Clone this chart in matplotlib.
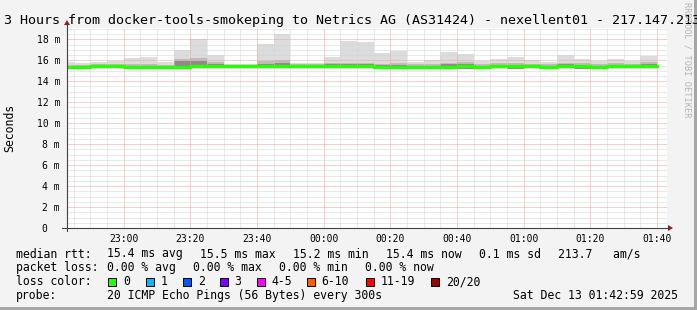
import matplotlib
matplotlib.use('Agg')
import matplotlib.pyplot as plt
from matplotlib.lines import Line2D
from matplotlib.patches import Rectangle, Polygon
from matplotlib.ticker import MultipleLocator, FixedLocator, FixedFormatter

# --- data ---
# start of each 5 minute bin
bin_times = ['22:40', '22:45', '22:50', '22:55', '23:00', '23:05', '23:10', '23:15',
             '23:20', '23:25', '23:30', '23:35', '23:40', '23:45', '23:50', '23:55',
             '00:00', '00:05', '00:10', '00:15', '00:20', '00:25', '00:30', '00:35',
             '00:40', '00:45', '00:50', '00:55', '01:00', '01:05', '01:10', '01:15',
             '01:20', '01:25', '01:30', '01:35']
last_bin_end = '01:40'

# median rtt in ms
median = [15.4, 15.4, 15.45, 15.45, 15.35, 15.35, 15.35, 15.35, 15.5, 15.5,
          15.5, 15.5, 15.5, 15.5, 15.45, 15.45, 15.5, 15.5, 15.5,
          15.4, 15.4, 15.4, 15.4, 15.4, 15.45, 15.4, 15.45, 15.45,
          15.45, 15.4, 15.45, 15.45, 15.4, 15.5, 15.5, 15.5]
# smoke (ms): lowest ping, inner dark band top, middle band top, highest ping
smoke_min = [15.25, 15.25, 15.25, 15.25, 15.15, 15.15, 15.2, 15.2, 15.3, 15.3,
             15.3, 15.3, 15.3, 15.3, 15.25, 15.25, 15.3, 15.3, 15.3,
             15.2, 15.2, 15.25, 15.2, 15.2, 15.15, 15.2, 15.25, 15.2,
             15.25, 15.2, 15.25, 15.2, 15.2, 15.3, 15.3, 15.25]
smoke_dark = [15.5, 15.5, 15.5, 15.5, 15.45, 15.45, 15.45, 15.9, 15.95, 15.65,
              15.5, 15.5, 15.65, 15.7, 15.55, 15.55, 15.6, 15.6, 15.6,
              15.55, 15.55, 15.5, 15.5, 15.6, 15.65, 15.5, 15.55, 15.55,
              15.5, 15.5, 15.6, 15.55, 15.5, 15.55, 15.55, 15.6]
smoke_mid = [15.55, 15.55, 15.6, 15.6, 15.6, 15.65, 15.55, 16.1, 16.2, 15.8,
             15.55, 15.55, 15.9, 16.0, 15.6, 15.6, 15.7, 15.75, 15.75,
             15.65, 15.7, 15.6, 15.65, 15.75, 15.8, 15.65, 15.7, 15.7,
             15.65, 15.65, 15.75, 15.7, 15.65, 15.7, 15.65, 15.8]
smoke_max = [15.8, 15.7, 15.8, 15.9, 16.2, 16.3, 15.8, 17.0, 18.0, 16.5,
             15.6, 15.6, 17.6, 18.5, 15.7, 15.7, 16.3, 17.8, 17.7,
             16.7, 16.85, 15.8, 16.0, 16.8, 16.6, 15.9, 16.1, 16.3,
             16.0, 15.8, 16.5, 16.1, 15.9, 16.1, 15.9, 16.4]

x_ticklabels = ['23:00', '23:20', '23:40', '00:00', '00:20', '00:40', '01:00', '01:20', '01:40']
y_ticks = [0, 2, 4, 6, 8, 10, 12, 14, 16, 18]
y_ticklabels = ['0  ', '2 m', '4 m', '6 m', '8 m', '10 m', '12 m', '14 m', '16 m', '18 m']
view_start = '22:42:59'
view_end = '01:42:59'

loss_labels = ['0', '1', '2', '3', '4-5', '6-10', '11-19', '20/20']
loss_colors = ['#26ff00', '#00b8ff', '#0059ff', '#7e00ff', '#ff00ff', '#ff5e00', '#ff0000', '#a10000']

title = '3 Hours from docker-tools-smokeping to Netrics AG (AS31424) - nexellent01 - 217.147.213'


def to_min(t):
    # minutes relative to 23:00, times after midnight roll over
    parts = [int(p) for p in t.split(':')]
    m = parts[0] * 60 + parts[1] + (parts[2] / 60 if len(parts) > 2 else 0)
    if parts[0] < 12:
        m += 1440
    return m - 23 * 60


W, H = 697, 310
def fx(px):
    return px / W
def fy(py):
    return 1 - py / H


mono = 'DejaVu Sans Mono'
fig = plt.figure(figsize=(W / 100, H / 100), dpi=100)
fig.patch.set_facecolor('#f3f3f3')

# 3d frame of the canvas
fig.add_artist(Rectangle((0, 0), 1, fy(307), transform=fig.transFigure, color='#a6a6a6', lw=0))
fig.add_artist(Rectangle((fx(694), 0), fx(3), 1, transform=fig.transFigure, color='#a6a6a6', lw=0))

ax = fig.add_axes([fx(67), fy(228), fx(600), (228 - 27.8) / H])
ax.set_facecolor('white')

xs = [to_min(t) for t in bin_times] + [to_min(last_bin_end)]
def ext(v):
    return v + [v[-1]]

ax.fill_between(xs, ext(smoke_min), ext(smoke_max), step='post', color='#dcdcdc', lw=0, zorder=1)
ax.fill_between(xs, ext(smoke_min), ext(smoke_mid), step='post', color='#bcbcbc', lw=0, zorder=1.1)
ax.fill_between(xs, ext(smoke_min), ext(smoke_dark), step='post', color='#8c8c8c', lw=0, zorder=1.2)
ax.step(xs, ext(median), where='post', color='#26ff00', lw=2.4, zorder=3)

ax.set_xlim(to_min(view_start), to_min(view_end))
ax.set_ylim(0, 19.1)

ax.xaxis.set_major_locator(FixedLocator([to_min(t) for t in x_ticklabels]))
ax.xaxis.set_major_formatter(FixedFormatter(x_ticklabels))
ax.xaxis.set_minor_locator(MultipleLocator(5))
ax.yaxis.set_major_locator(FixedLocator(y_ticks))
ax.yaxis.set_major_formatter(FixedFormatter(y_ticklabels))
ax.yaxis.set_minor_locator(MultipleLocator(0.5))

ax.grid(which='major', color='#f2a0a0', lw=0.72, linestyle=(0, (1, 1)))
ax.grid(which='minor', color='#d4d4d4', lw=0.72, linestyle=(0, (1, 1)))
ax.set_axisbelow(False)
ax.tick_params(which='both', length=0)
ax.tick_params(axis='x', pad=4.2, labelsize=7)
ax.tick_params(axis='y', pad=5, labelsize=7)
for lab in ax.get_xticklabels() + ax.get_yticklabels():
    lab.set_family(mono)
for s in ax.spines.values():
    s.set_visible(False)

# axes with arrows
axis_col = '#404040'
arrow_col = '#9b1c1c'
fig.add_artist(Line2D([fx(67), fx(67)], [fy(231), fy(24)], color=axis_col, lw=0.8))
fig.add_artist(Line2D([fx(62), fx(669)], [fy(228), fy(228)], color=axis_col, lw=0.8))
fig.add_artist(Polygon([(fx(64), fy(25)), (fx(70), fy(25)), (fx(67), fy(20))],
                       closed=True, transform=fig.transFigure, color=arrow_col, lw=0))
fig.add_artist(Polygon([(fx(668), fy(225)), (fx(668), fy(231)), (fx(673), fy(228))],
                       closed=True, transform=fig.transFigure, color=arrow_col, lw=0))

# title, axis label, watermark
fig.text(fx(4), fy(24), title, family=mono, fontsize=9.6, va='baseline', ha='left')
fig.text(fx(10), fy(128), 'Seconds', family=mono, fontsize=8.3, rotation=90, va='center', ha='center')
fig.text(fx(687), fy(60), 'RRDTOOL / TOBI OETIKER', family=mono, fontsize=6.2, rotation=270,
         va='center', ha='center', color='#b4b4b4')

# legend lines
leg = dict(family=mono, fontsize=8.3, va='baseline', ha='left')
rows = [
    (257.5, [(16, 'median rtt:'), (107.3, '15.4 ms avg'), (200.1, '15.5 ms max'), (293, '15.2 ms min'),
             (386, '15.4 ms now'), (479.3, '0.1 ms sd'), (558, '213.7   am/s')]),
    (271.3, [(16, 'packet loss:'), (107.3, '0.00 % avg'), (193.3, '0.00 % max'), (279.3, '0.00 % min'),
             (365, '0.00 % now')]),
    (285.2, [(16, 'loss color:')]),
    (299.2, [(16, 'probe:'), (107.3, '20 ICMP Echo Pings (56 Bytes) every 300s'),
             (513.3, 'Sat Dec 13 01:42:59 2025')]),
]
for yb, items in rows:
    for xp, txt in items:
        fig.text(fx(xp), fy(yb), txt, **leg)

sw_x = [108.3, 145.7, 182.7, 219.7, 256.7, 306.7, 365.5, 430.7]
for xp, lab, col in zip(sw_x, loss_labels, loss_colors):
    fig.add_artist(Rectangle((fx(xp), fy(286)), fx(8), 8.5 / H, transform=fig.transFigure,
                             facecolor=col, edgecolor='black', lw=0.7))
    fig.text(fx(xp + 15), fy(285.2), lab, **leg)

fig.savefig('out.png', dpi=100, facecolor=fig.get_facecolor())
